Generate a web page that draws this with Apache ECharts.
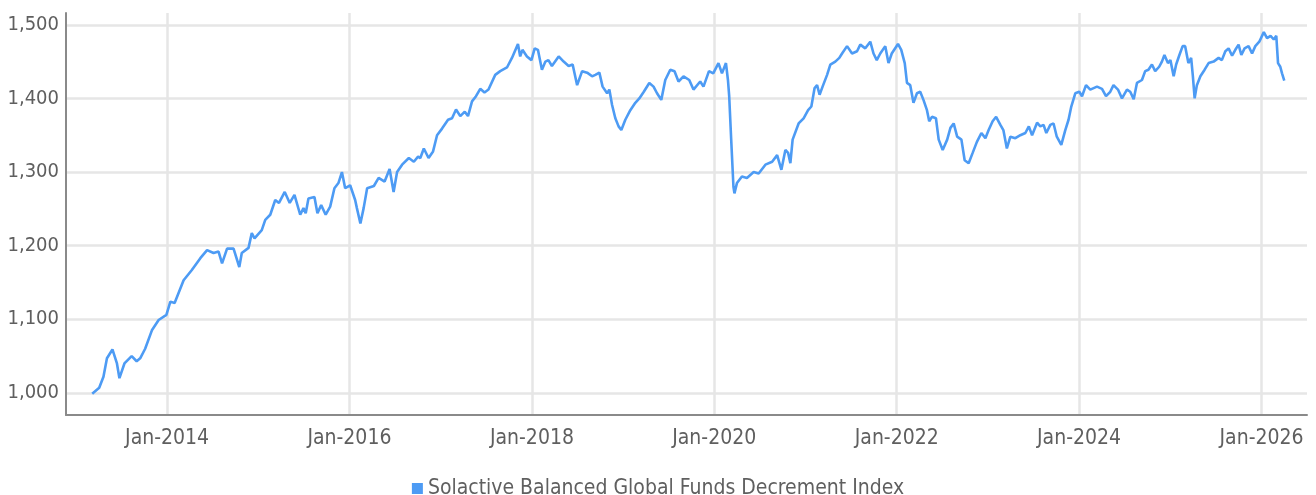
<!DOCTYPE html>
<html>
<head>
<meta charset="utf-8">
<title>Solactive Balanced Global Funds Decrement Index</title>
<script src="https://cdn.jsdelivr.net/npm/echarts@6/dist/echarts.min.js"></script>
<style>
  html, body { margin: 0; padding: 0; background: #fff; }
  #chart { width: 1316px; height: 495px; }
</style>
</head>
<body>
<div id="chart"></div>
<script>
// Series name
const seriesName = 'Solactive Balanced Global Funds Decrement Index';

// Index level
const dates = [
  '2013-03-07','2013-04-04','2013-04-21','2013-05-05','2013-05-27','2013-06-14','2013-06-24','2013-07-14',
  '2013-08-12','2013-09-01','2013-09-15','2013-10-05','2013-11-01','2013-11-28','2013-12-29','2014-01-14',
  '2014-01-31','2014-03-08','2014-04-10','2014-05-14','2014-06-10','2014-07-06','2014-07-26','2014-08-09',
  '2014-08-29','2014-09-24','2014-10-17','2014-10-27','2014-11-23','2014-12-06','2014-12-17','2015-01-15',
  '2015-01-29','2015-02-18','2015-03-10','2015-03-25','2015-04-17','2015-05-07','2015-05-26','2015-06-18',
  '2015-07-01','2015-07-10','2015-07-21','2015-08-14','2015-08-26','2015-09-10','2015-09-28','2015-10-16',
  '2015-11-02','2015-11-18','2015-12-02','2015-12-15','2016-01-04','2016-01-24','2016-01-31','2016-02-14',
  '2016-02-27','2016-03-12','2016-04-08','2016-04-27','2016-05-21','2016-06-10','2016-06-26','2016-07-10',
  '2016-07-30','2016-08-26','2016-09-15','2016-10-02','2016-10-11','2016-10-25','2016-11-13','2016-12-01',
  '2016-12-17','2017-01-06','2017-01-30','2017-02-15','2017-03-03','2017-03-20','2017-04-07','2017-04-20',
  '2017-05-06','2017-05-22','2017-06-08','2017-06-25','2017-07-11','2017-08-07','2017-08-27','2017-09-23',
  '2017-10-13','2017-11-06','2017-11-15','2017-11-24','2017-12-12','2017-12-30','2018-01-12','2018-01-25',
  '2018-02-10','2018-02-24','2018-03-08','2018-03-22','2018-04-18','2018-05-08','2018-05-28','2018-06-13',
  '2018-07-01','2018-07-21','2018-08-10','2018-08-30','2018-09-12','2018-09-28','2018-10-11','2018-10-29',
  '2018-11-07','2018-11-18','2018-12-01','2018-12-14','2018-12-25','2019-01-10','2019-01-30','2019-02-19',
  '2019-03-07','2019-03-25','2019-04-16','2019-05-03','2019-05-17','2019-06-03','2019-06-19','2019-07-09',
  '2019-07-26','2019-08-11','2019-08-31','2019-09-23','2019-10-10','2019-11-06','2019-11-19','2019-12-11',
  '2019-12-28','2020-01-18','2020-02-01','2020-02-17','2020-02-25','2020-03-01','2020-03-09','2020-03-18',
  '2020-03-22','2020-04-01','2020-04-21','2020-05-11','2020-06-07','2020-06-27','2020-07-24','2020-08-20',
  '2020-09-09','2020-09-26','2020-10-12','2020-10-23','2020-11-01','2020-11-10','2020-12-04','2020-12-24',
  '2021-01-11','2021-01-24','2021-02-06','2021-02-16','2021-02-26','2021-03-10','2021-03-28','2021-04-10',
  '2021-04-30','2021-05-16','2021-05-27','2021-06-16','2021-07-06','2021-07-26','2021-08-08','2021-08-28',
  '2021-09-17','2021-09-30','2021-10-13','2021-10-27','2021-11-16','2021-11-29','2021-12-12','2022-01-06',
  '2022-01-19','2022-02-02','2022-02-11','2022-02-24','2022-03-09','2022-03-23','2022-04-05','2022-04-18',
  '2022-05-02','2022-05-11','2022-05-22','2022-06-07','2022-06-18','2022-07-04','2022-07-22','2022-08-04',
  '2022-08-17','2022-08-31','2022-09-17','2022-09-30','2022-10-16','2022-11-01','2022-11-18','2022-12-06',
  '2022-12-22','2023-01-04','2023-01-20','2023-02-03','2023-02-20','2023-03-04','2023-03-18','2023-04-01',
  '2023-04-21','2023-05-11','2023-05-31','2023-06-14','2023-06-27','2023-07-17','2023-07-30','2023-08-12',
  '2023-08-23','2023-09-08','2023-09-21','2023-10-04','2023-10-22','2023-11-07','2023-11-20','2023-12-01',
  '2023-12-17','2024-01-02','2024-01-13','2024-01-29','2024-02-15','2024-03-13','2024-04-02','2024-04-18',
  '2024-05-05','2024-05-18','2024-06-05','2024-06-21','2024-07-11','2024-07-24','2024-08-07','2024-08-20',
  '2024-09-09','2024-09-22','2024-10-05','2024-10-19','2024-11-01','2024-11-17','2024-11-28','2024-12-08',
  '2024-12-22','2025-01-01','2025-01-14','2025-01-24','2025-02-06','2025-02-19','2025-03-01','2025-03-14',
  '2025-03-25','2025-04-01','2025-04-08','2025-04-17','2025-05-01','2025-05-18','2025-06-03','2025-06-23',
  '2025-07-13','2025-07-26','2025-08-09','2025-08-22','2025-09-05','2025-09-18','2025-10-01','2025-10-12',
  '2025-10-25','2025-11-10','2025-11-24','2025-12-07','2025-12-23','2026-01-10','2026-01-23','2026-02-06',
  '2026-02-19','2026-03-01','2026-03-08','2026-03-17','2026-03-24','2026-04-02'
];
const values = [
  999,1007,1022,1047,1059,1040,1020,1040,
  1050,1043,1047,1060,1085,1099,1106,1124,
  1122,1153,1167,1183,1194,1190,1192,1176,
  1196,1196,1171,1190,1197,1217,1210,1221,
  1235,1242,1262,1258,1273,1258,1269,1242,
  1251,1244,1264,1266,1244,1255,1242,1253,
  1278,1285,1300,1278,1282,1262,1251,1230,
  1251,1278,1281,1292,1287,1304,1273,1300,
  1310,1319,1314,1321,1319,1332,1319,1328,
  1350,1359,1371,1373,1385,1376,1382,1376,
  1396,1403,1413,1408,1412,1432,1437,1442,
  1455,1474,1457,1466,1457,1452,1468,1466,
  1439,1450,1452,1444,1457,1450,1444,1446,
  1418,1437,1435,1430,1432,1435,1416,1407,
  1412,1391,1373,1362,1357,1371,1384,1394,
  1400,1409,1421,1416,1407,1398,1425,1439,
  1437,1423,1430,1425,1412,1423,1416,1437,
  1434,1448,1434,1448,1425,1403,1344,1280,
  1271,1285,1294,1292,1300,1298,1310,1314,
  1323,1303,1330,1326,1312,1344,1366,1373,
  1384,1389,1414,1418,1405,1416,1432,1446,
  1450,1455,1461,1471,1461,1464,1473,1468,
  1477,1461,1452,1461,1471,1448,1461,1474,
  1466,1448,1421,1418,1394,1407,1409,1398,
  1384,1369,1375,1373,1344,1330,1344,1360,
  1366,1348,1344,1316,1312,1326,1341,1353,
  1346,1357,1369,1375,1364,1357,1332,1348,
  1346,1350,1353,1362,1350,1367,1362,1364,
  1353,1364,1366,1348,1337,1357,1371,1389,
  1407,1409,1403,1418,1412,1416,1413,1403,
  1409,1418,1412,1400,1412,1409,1399,1421,
  1425,1437,1439,1446,1437,1443,1450,1459,
  1448,1452,1430,1446,1459,1471,1471,1448,
  1455,1430,1400,1418,1430,1439,1448,1450,
  1455,1452,1464,1468,1458,1466,1473,1459,
  1468,1471,1461,1471,1477,1490,1482,1485,
  1480,1485,1448,1443,1434,1424
];

// Axis ticks
const xTicks = ['2014-01-01','2016-01-01','2018-01-01','2020-01-01','2022-01-01','2024-01-01','2026-01-01'];
const xTickLabels = ['Jan-2014','Jan-2016','Jan-2018','Jan-2020','Jan-2022','Jan-2024','Jan-2026'];
const yTicks = [1000, 1100, 1200, 1300, 1400, 1500];

const FONT = "'DejaVu Sans Condensed', 'Liberation Sans Narrow', sans-serif";
const TEXT_COLOR = '#5f5f5f';
const parseDay = (s) => { const p = s.split('-').map(Number); return Date.UTC(p[0], p[1] - 1, p[2]); };
const xTickTimes = xTicks.map(parseDay);

const chart = echarts.init(document.getElementById('chart'), null, { renderer: 'canvas' });

chart.setOption({
  animation: false,
  backgroundColor: '#ffffff',
  grid: {
    left: 66,
    right: 9,
    top: 13,
    bottom: 80,
    containLabel: false,
    outerBoundsMode: 'none'
  },
  legend: {
    top: 473,
    left: 'center',
    icon: 'rect',
    itemWidth: 11,
    itemHeight: 11,
    itemGap: 4,
    textStyle: { fontFamily: FONT, fontSize: 21, color: TEXT_COLOR },
    data: [seriesName]
  },
  xAxis: {
    type: 'value',
    scale: true,
    min: parseDay('2012-11-22'),
    max: parseDay('2026-07-02'),
    axisLine: { show: true, onZero: false, lineStyle: { color: '#8a8a8a', width: 2 } },
    axisTick: { show: false, customValues: xTickTimes },
    splitLine: { show: true, customValues: xTickTimes, lineStyle: { color: '#e6e6e6', width: 2.5 } },
    axisLabel: {
      customValues: xTickTimes,
      margin: 13,
      fontFamily: FONT,
      fontSize: 21,
      color: TEXT_COLOR,
      formatter: (v) => {
        const i = xTickTimes.indexOf(v);
        return i >= 0 ? xTickLabels[i] : '';
      }
    }
  },
  yAxis: {
    type: 'value',
    min: 970,
    max: 1516,
    axisLine: { show: true, lineStyle: { color: '#8a8a8a', width: 2 } },
    axisTick: { show: false, customValues: yTicks },
    splitLine: { show: true, customValues: yTicks, lineStyle: { color: '#e6e6e6', width: 2.5 } },
    axisLabel: {
      customValues: yTicks,
      margin: 7,
      fontFamily: FONT,
      fontSize: 20,
      color: TEXT_COLOR,
      formatter: (v) => v.toLocaleString('en-US')
    }
  },
  series: [{
    name: seriesName,
    type: 'line',
    showSymbol: false,
    smooth: false,
    color: '#4d9bf4',
    lineStyle: { color: '#4d9bf4', width: 2.6 },
    data: dates.map((d, i) => [parseDay(d), values[i]])
  }]
});
</script>
</body>
</html>
